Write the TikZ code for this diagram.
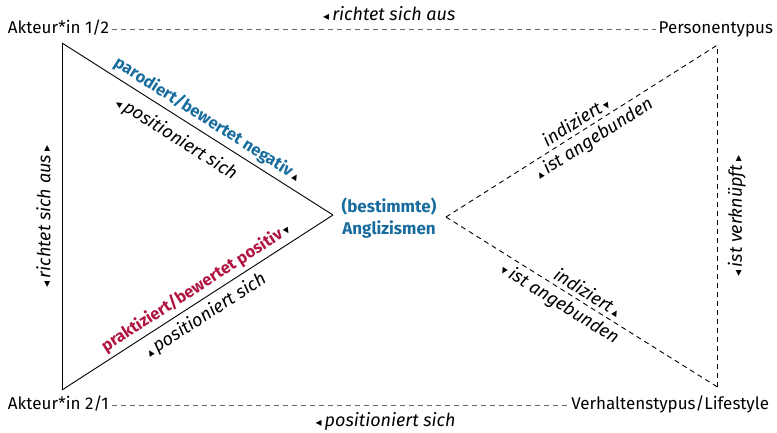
\documentclass[tikz,border=0pt]{standalone}
\usepackage{fontspec}
\setmainfont{Fira Sans}
\newfontfamily\symfont{DejaVu Sans}
\definecolor{ablue}{RGB}{24,108,158}
\definecolor{ared}{RGB}{176,20,64}
% small direction marks
\newcommand\mkL{{\symfont\fontsize{12}{12}\selectfont ◂}}
\newcommand\mkR{{\symfont\fontsize{12}{12}\selectfont ▸}}
\newcommand\mkU{{\symfont\fontsize{12}{12}\selectfont ▴}}
\newcommand\mkD{{\symfont\fontsize{12}{12}\selectfont ▾}}
\begin{document}
\begin{tikzpicture}[x=1pt,y=-1pt,
  lbl/.style={font=\fontsize{17}{19}\selectfont, inner sep=3pt, outer sep=0pt, text height=12pt, text depth=4pt},
  rel/.style={font=\fontsize{18}{20}\selectfont\itshape, text=black, inner sep=2pt, sloped},
  key/.style={font=\fontsize{16.5}{19}\selectfont\bfseries, inner sep=2pt, sloped},
  solidline/.style={line width=0.9pt},
  dline/.style={line width=0.9pt, dash pattern=on 5pt off 4pt},
  gline/.style={dline, black!60}]
\useasboundingbox (0,0) rectangle (777,432);

% corner labels
\node[lbl, anchor=west] (a12) at (5,29) {Akteur*in 1/2};
\node[lbl, anchor=east] (pers) at (776,29) {Personentypus};
\node[lbl, anchor=west] (a21) at (5,405) {Akteur*in 2/1};
\node[lbl, anchor=east] (verh) at (772,405) {Verhaltenstypus/Lifestyle};

% centre
\node[font=\fontsize{17}{22}\selectfont\bfseries, text=ablue, align=center] (angl) at (389,218) {(bestimmte)\\Anglizismen};

% triangle corners
\coordinate (L1) at (62,43);
\coordinate (L2) at (62,390);
\coordinate (L3) at (333,215);
\coordinate (R1) at (717.5,45);
\coordinate (R2) at (717.5,387);
\coordinate (R3) at (446,217);

% horizontal relations
\draw[gline] (a12.east) -- node[rel, above=6pt, pos=0.51] {\mkL\,richtet sich aus} (pers.west);
\draw[gline] (a21.east) -- node[rel, below=5pt, pos=0.6] {\mkL\,positioniert sich} (verh.west);

% left triangle
\draw[solidline] (L2) -- node[rel, above=9pt, pos=0.5] {\mkL\,richtet sich aus\,\mkR} (L1);
\draw[solidline] (L1) -- node[key, above=2pt, pos=0.51, text=ablue] {parodiert/bewertet negativ\,{\color{black}\mkU}}
                        node[rel, below=8pt, pos=0.46] {\mkL\,positioniert sich} (L3);
\draw[solidline] (L2) -- node[key, above=2pt, pos=0.52, text=ared] {praktiziert/bewertet positiv\,{\color{black}\mkD}}
                        node[rel, below=4pt, pos=0.5] {\mkU\,positioniert sich} (L3);

% right triangle
\draw[dline] (R2) -- node[rel, below=8pt, pos=0.5] {\mkL\,ist verknüpft\,\mkR} (R1);
\draw[dline] (R3) -- node[rel, above=2pt, pos=0.5] {indiziert\,\mkD}
                    node[rel, below=2pt, pos=0.52] {\mkU\,ist angebunden} (R1);
\draw[dline] (R3) -- node[rel, above=2pt, pos=0.5] {indiziert\,\mkU}
                    node[rel, below=2pt, pos=0.445] {\mkD\,ist angebunden} (R2);
\end{tikzpicture}
\end{document}
